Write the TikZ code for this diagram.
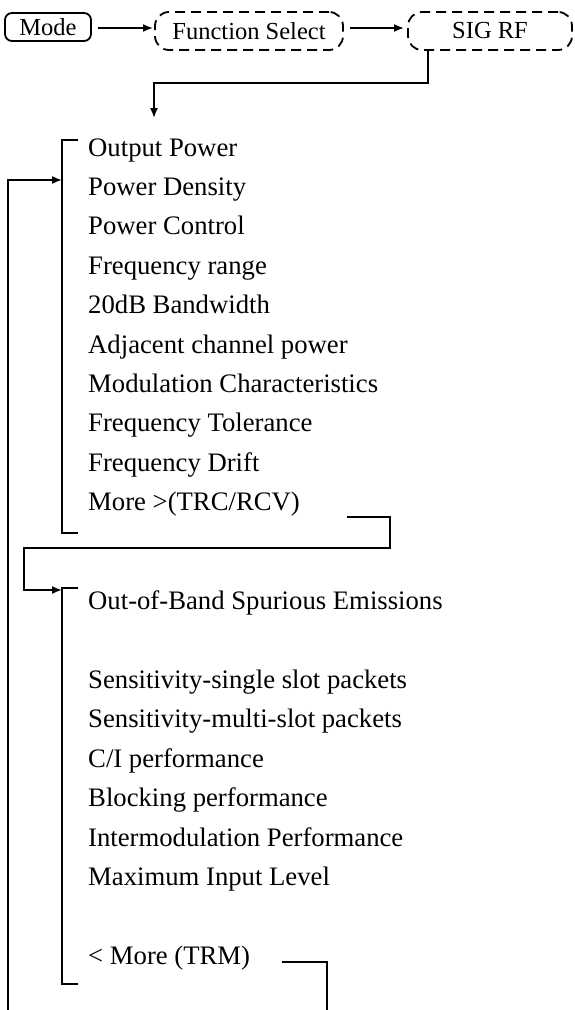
\documentclass[tikz,border=0pt]{standalone}
\usepackage{fontspec}
\setmainfont{Liberation Serif}
\usetikzlibrary{arrows.meta}
\begin{document}
\begin{tikzpicture}[x=1pt,y=-1pt,
  every node/.style={font=\fontsize{26.7}{32}\selectfont, inner sep=0pt},
  toptext/.style={font=\fontsize{24.5}{30}\selectfont},
  item/.style={anchor=base west},
  wire/.style={line width=1.6pt},
  arr/.style={wire,-{Latex[length=10pt,width=8pt]}},
  solidbox/.style={draw, toptext, line width=1.8pt, rounded corners=7pt},
  dashbox/.style={draw, toptext, line width=1.8pt, rounded corners=14pt, dash pattern=on 10pt off 6pt}]
\useasboundingbox (0,0) rectangle (574,1010);
% top row
\node[solidbox, minimum width=86pt, minimum height=28pt] (mode) at (48,27) {Mode};
\node[dashbox, minimum width=188pt, minimum height=38pt] (fs) at (249,31) {Function Select};
\node[dashbox, minimum width=164pt, minimum height=38pt] (sig) at (490,31) {SIG RF};
\coordinate (m1) at (98,28);
\coordinate (f0) at (153,28);
\coordinate (f1) at (350,28);
\coordinate (s0) at (404,28);
\draw[arr] (m1) -- (f0);
\draw[arr] (f1) -- (s0);
\coordinate (sd) at (428,50);
\coordinate (dn) at (154,118);
\draw[arr] (sd) |- (154,83) -- (dn);
% bracket 1
\coordinate (b1t) at (78,140);
\coordinate (b1b) at (78,533);
\draw[wire] (b1t) -- (62,140) -- (62,533) -- (b1b);
\node[item] (a1) at (88,156) {Output Power};
\node[item] (a2) at (88,195.4) {Power Density};
\node[item] (a3) at (88,234.8) {Power Control};
\node[item] (a4) at (88,274.2) {Frequency range};
\node[item] (a5) at (88,313.6) {20dB Bandwidth};
\node[item] (a6) at (88,353) {Adjacent channel power};
\node[item] (a7) at (88,392.4) {Modulation Characteristics};
\node[item] (a8) at (88,431.8) {Frequency Tolerance};
\node[item] (a9) at (88,471.2) {Frequency Drift};
\node[item] (a10) at (88,510.6) {More >(TRC/RCV)};
% loop back
\coordinate (lb) at (8,1010);
\coordinate (in1) at (62,180);
\draw[arr] (lb) |- (in1);
% more connector
\coordinate (mr) at (347,517);
\coordinate (in2) at (62,590);
\draw[arr] (mr) -- (390,517) -- (390,548) -- (24,548) |- (in2);
% bracket 2
\coordinate (b2t) at (78,588);
\coordinate (b2b) at (78,984);
\draw[wire] (b2t) -- (62,588) -- (62,984) -- (b2b);
\node[item] (c1) at (88,609) {Out-of-Band Spurious Emissions};
\node[item] (c3) at (88,688) {Sensitivity-single slot packets};
\node[item] (c4) at (88,727.5) {Sensitivity-multi-slot packets};
\node[item] (c5) at (88,767) {C/I performance};
\node[item] (c6) at (88,806.5) {Blocking performance};
\node[item] (c7) at (88,846) {Intermodulation Performance};
\node[item] (c8) at (88,885.5) {Maximum Input Level};
\node[item] (c10) at (88,964.5) {< More (TRM)};
\coordinate (tr) at (282,962);
\coordinate (te) at (327,1010);
\draw[wire] (tr) -| (te);
\end{tikzpicture}
\end{document}
